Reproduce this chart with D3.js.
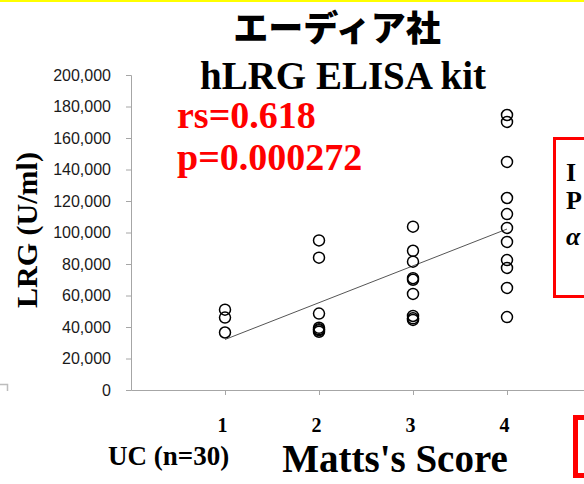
<!DOCTYPE html>
<html>
<head>
<meta charset="utf-8">
<script src="https://cdn.jsdelivr.net/npm/d3@7"></script>
<style>
  html, body { margin: 0; padding: 0; background: #fff; }
  svg { display: block; }
</style>
</head>
<body>
<div id="chart"></div>
<script>
const width = 584;
const height = 484;

// Matts's score groups and LRG values (U/ml)
const scoreTicks = [1, 2, 3, 4];
const lrgScore1 = [51000, 46000, 36500];
const lrgScore2 = [95000, 84000, 48500, 39500, 38500, 38000, 37000];
const lrgScore3 = [103700, 88400, 81500, 71000, 70000, 61000, 47000, 45500, 44500];
const lrgScore4 = [174600, 170200, 144800, 121900, 111700, 102900, 94000, 82500, 77500, 64800, 46300];
const yTickValues = [0, 20000, 40000, 60000, 80000, 100000, 120000, 140000, 160000, 180000, 200000];

const titleJa = "エーディア社";
const titleEn = "hLRG ELISA kit";
const statLines = ["rs=0.618", "p=0.000272"];
const yTitle = "LRG (U/ml)";
const xTitle = "Matts's Score";
const groupLabel = "UC (n=30)";
const boxLines = ["I", "P", "α"];

const serif = "'Liberation Serif', 'Times New Roman', serif";
const sans = "'Liberation Sans', Arial, sans-serif";
const axisColor = "#a6a6a6";

const points = [];
[lrgScore1, lrgScore2, lrgScore3, lrgScore4].forEach((vals, i) => {
    for(const v of vals) {
        points.push({score: scoreTicks[i], lrg: v});
    }
});

const x = d3.scaleLinear().domain([0, 5]).range([131, 601]);
const y = d3.scaleLinear().domain([0, 200000]).range([390, 75]);

const svg = d3.select("#chart")
    .append("svg")
    .attr("width", width)
    .attr("height", height)
    .style("background", "#fff");

// yellow strip along the top edge
svg.append("rect")
    .attr("x", 0).attr("y", 0)
    .attr("width", width).attr("height", 2)
    .attr("fill", "#ffff00");

// small grey corner at the left edge
svg.append("path")
    .attr("d", "M0,384.5H7.5V391")
    .attr("fill", "none")
    .attr("stroke", "#bdbdbd")
    .attr("stroke-width", 1.5);

// y axis
const yAxis = svg.append("g")
    .attr("transform", `translate(${x(0)},0)`)
    .call(d3.axisLeft(y)
        .tickValues(yTickValues)
        .tickSize(5)
        .tickPadding(15)
        .tickFormat(d3.format(",")));
yAxis.select(".domain").attr("stroke", axisColor);
yAxis.selectAll(".tick line").attr("stroke", axisColor);
yAxis.selectAll(".tick text")
    .attr("fill", "#1a1a1a")
    .style("font-family", sans)
    .style("font-size", "16px");

// x axis
const xAxis = svg.append("g")
    .attr("transform", `translate(0,${y(0)})`)
    .call(d3.axisBottom(x)
        .tickValues(scoreTicks)
        .tickFormat(d3.format("d"))
        .tickSize(5)
        .tickSizeOuter(0)
        .tickPadding(23));
xAxis.select(".domain").attr("stroke", axisColor);
xAxis.selectAll(".tick line").attr("stroke", axisColor);
xAxis.selectAll(".tick text")
    .attr("dx", -3)
    .attr("fill", "#000")
    .style("font-family", serif)
    .style("font-weight", "bold")
    .style("font-size", "20px");

// linear fit through all points
const mx = d3.mean(points, d => d.score);
const my = d3.mean(points, d => d.lrg);
const slope = d3.sum(points, d => (d.score - mx) * (d.lrg - my)) / d3.sum(points, d => (d.score - mx) ** 2);
const intercept = my - slope * mx;
const fitEnds = d3.extent(points, d => d.score).map(s => ({score: s, lrg: intercept + slope * s}));

svg.append("path")
    .datum(fitEnds)
    .attr("d", d3.line().x(d => x(d.score)).y(d => y(d.lrg)))
    .attr("fill", "none")
    .attr("stroke", "#555")
    .attr("stroke-width", 1);

svg.append("g")
    .selectAll("circle")
    .data(points)
    .enter()
    .append("circle")
    .attr("cx", d => x(d.score))
    .attr("cy", d => y(d.lrg))
    .attr("r", 5.5)
    .attr("fill", "none")
    .attr("stroke", "#000")
    .attr("stroke-width", 1.5);

// titles
svg.append("text")
    .attr("x", 337).attr("y", 41)
    .attr("text-anchor", "middle")
    .style("font-family", "'Noto Sans CJK JP', sans-serif")
    .style("font-weight", 900)
    .style("font-size", "35px")
    .text(titleJa);

svg.append("text")
    .attr("x", 343).attr("y", 89)
    .attr("text-anchor", "middle")
    .style("font-family", serif)
    .style("font-weight", "bold")
    .style("font-size", "39px")
    .text(titleEn);

svg.append("g")
    .selectAll("text")
    .data(statLines)
    .enter()
    .append("text")
    .attr("x", 177)
    .attr("y", (d, i) => 128 + i * 42)
    .attr("fill", "#ff0000")
    .style("font-family", serif)
    .style("font-weight", "bold")
    .style("font-size", "38px")
    .text(d => d);

svg.append("text")
    .attr("transform", "translate(37,230) rotate(-90)")
    .attr("text-anchor", "middle")
    .style("font-family", serif)
    .style("font-weight", "bold")
    .style("font-size", "30px")
    .text(yTitle);

svg.append("text")
    .attr("x", 395).attr("y", 472)
    .attr("text-anchor", "middle")
    .style("font-family", serif)
    .style("font-weight", "bold")
    .style("font-size", "39px")
    .text(xTitle);

svg.append("text")
    .attr("x", 108).attr("y", 465)
    .style("font-family", serif)
    .style("font-weight", "bold")
    .style("font-size", "27px")
    .text(groupLabel);

// red boxes at the right edge
svg.append("rect")
    .attr("x", 554.5).attr("y", 138.5)
    .attr("width", 60).attr("height", 158)
    .attr("fill", "#fff")
    .attr("stroke", "#ff0000")
    .attr("stroke-width", 3);

svg.append("g")
    .selectAll("text")
    .data(boxLines)
    .enter()
    .append("text")
    .attr("x", 566)
    .attr("y", (d, i) => [181, 209, 245][i])
    .style("font-family", serif)
    .style("font-weight", "bold")
    .style("font-style", (d, i) => i === 2 ? "italic" : "normal")
    .style("font-size", "26px")
    .text(d => d);

svg.append("rect")
    .attr("x", 575.5).attr("y", 417.5)
    .attr("width", 40).attr("height", 58)
    .attr("fill", "#fff")
    .attr("stroke", "#ff0000")
    .attr("stroke-width", 5);
</script>
</body>
</html>
